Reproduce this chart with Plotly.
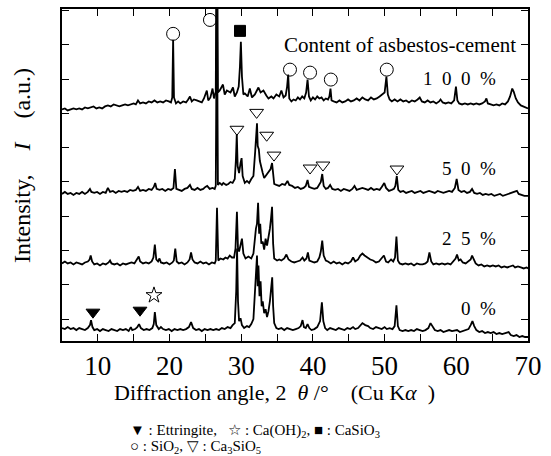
import plotly.graph_objects as go

# ---------------- data (2theta in degrees, intensity in arbitrary units) ----------------
pattern_0 = [(5.0,3),(5.4,2),(5.8,4),(6.2,2),(6.6,3),(7.0,1),(7.4,3),(7.8,2),(8.2,1),(8.6,3),(8.9,6),(9.05,11),(9.25,4),(9.5,1),(9.9,2),(10.3,0),(10.7,2),(11.1,1),(11.5,0),(11.9,2),(12.3,1),(12.7,0),(13.1,2),(13.5,1),(13.9,2),(14.3,0),(14.6,4),(14.8,1),(15.2,2),(15.5,4),(15.75,7),(16.0,3),(16.4,1),(16.8,2),(17.2,1),(17.6,3),(17.8,7),(17.95,19),(18.15,6),(18.5,2),(18.8,4),(19.1,2),(19.5,1),(19.9,2),(20.3,0),(20.7,2),(21.1,1),(21.5,2),(21.9,1),(22.3,2),(22.7,4),(23.0,9),(23.3,3),(23.7,1),(24.1,2),(24.5,0),(24.9,2),(25.3,1),(25.7,2),(26.1,1),(26.5,2),(26.9,1),(27.3,3),(27.7,2),(28.1,4),(28.5,3),(28.8,6),(29.1,8),(29.3,40),(29.42,83),(29.55,30),(29.7,10),(29.9,13),(30.1,6),(30.4,3),(30.8,5),(31.1,4),(31.4,7),(31.7,12),(31.95,40),(32.1,60),(32.2,76),(32.3,45),(32.4,66),(32.55,35),(32.7,50),(32.85,25),(33.0,30),(33.2,18),(33.4,22),(33.6,14),(33.8,20),(34.0,30),(34.2,45),(34.32,54),(34.45,25),(34.6,8),(34.9,3),(35.2,2),(35.6,3),(36.0,1),(36.4,3),(36.8,2),(37.2,1),(37.6,2),(38.0,3),(38.3,5),(38.55,11),(38.75,4),(39.0,3),(39.25,7),(39.5,3),(39.8,1),(40.2,2),(40.6,4),(41.0,10),(41.25,29),(41.45,10),(41.7,3),(42.0,1),(42.4,3),(42.8,2),(43.2,1),(43.6,3),(44.0,2),(44.4,1),(44.8,3),(45.2,2),(45.6,4),(45.9,2),(46.3,3),(46.6,6),(46.9,8),(47.3,6),(47.7,5),(48.0,3),(48.4,2),(48.8,4),(49.2,3),(49.6,2),(50.0,4),(50.3,2),(50.7,3),(51.1,2),(51.4,5),(51.65,26),(51.85,5),(52.1,1),(52.5,0),(52.9,1),(53.3,0),(53.7,1),(54.1,0),(54.5,2),(54.9,1),(55.3,0),(55.7,1),(56.1,3),(56.4,8),(56.7,4),(57.0,1),(57.4,0),(57.8,1),(58.2,-1),(58.6,0),(59.0,1),(59.4,0),(59.8,1),(60.1,1),(60.5,-1),(60.9,0),(61.3,1),(61.7,2),(62.0,6),(62.25,10),(62.5,5),(62.8,1),(63.2,-1),(63.6,0),(64.0,-2),(64.4,-1),(64.8,-2),(65.2,-1),(65.6,-3),(66.0,-2),(66.4,-3),(66.8,-2),(67.3,-1),(67.6,-4),(68.0,-5),(68.4,-4),(68.8,-6),(69.2,-5),(69.6,-6),(70.0,-6)]

pattern_25 = [(5.0,0),(5.4,2),(5.8,0),(6.2,1),(6.6,-1),(7.0,1),(7.4,0),(7.8,-1),(8.2,1),(8.6,2),(8.85,4),(9.0,8),(9.2,2),(9.5,-1),(9.9,0),(10.3,-2),(10.7,0),(11.1,-1),(11.5,1),(11.7,3),(11.9,0),(12.3,-1),(12.7,0),(13.1,-2),(13.5,0),(13.9,-1),(14.3,0),(14.7,1),(15.1,0),(15.4,3),(15.7,7),(15.9,2),(16.3,0),(16.7,1),(17.1,0),(17.5,2),(17.75,6),(17.95,19),(18.15,4),(18.4,2),(18.6,5),(18.8,1),(19.2,0),(19.6,1),(20.0,-1),(20.4,1),(20.6,3),(20.8,15),(21.0,2),(21.3,0),(21.7,1),(22.1,-1),(22.5,1),(22.8,4),(23.0,11),(23.2,4),(23.5,1),(23.9,0),(24.3,2),(24.7,0),(25.1,1),(25.5,-1),(25.9,1),(26.3,0),(26.45,3),(26.62,56),(26.8,3),(27.1,5),(27.5,4),(27.8,6),(28.1,5),(28.4,8),(28.7,6),(29.0,6),(29.2,15),(29.4,52),(29.55,15),(29.7,12),(29.95,22),(30.1,25),(30.3,10),(30.6,5),(31.0,7),(31.4,5),(31.7,10),(31.9,30),(32.05,35),(32.2,40),(32.35,61),(32.5,30),(32.65,40),(32.8,20),(33.0,22),(33.2,14),(33.4,25),(33.6,18),(33.8,25),(34.0,35),(34.15,45),(34.3,57),(34.45,20),(34.6,5),(35.0,3),(35.3,4),(35.6,3),(36.0,5),(36.3,9),(36.6,4),(37.0,2),(37.4,1),(37.8,2),(38.2,3),(38.55,6),(38.8,3),(39.1,5),(39.3,11),(39.5,3),(39.8,2),(40.2,1),(40.6,2),(40.9,6),(41.1,12),(41.3,23),(41.5,8),(41.8,3),(42.1,2),(42.5,0),(42.9,2),(43.3,0),(43.7,1),(44.1,-1),(44.5,1),(44.9,0),(45.3,2),(45.6,6),(45.9,2),(46.3,4),(46.6,8),(46.9,10),(47.2,8),(47.6,6),(48.0,4),(48.4,3),(48.8,1),(49.2,2),(49.6,5),(49.9,8),(50.2,2),(50.5,1),(50.9,4),(51.2,2),(51.45,6),(51.65,27),(51.85,3),(52.1,0),(52.5,-1),(52.9,0),(53.3,-1),(53.7,0),(54.1,-2),(54.5,0),(54.9,-1),(55.3,-1),(55.7,0),(56.0,2),(56.25,11),(56.5,2),(56.8,-1),(57.2,0),(57.6,-1),(58.0,0),(58.4,-1),(58.8,0),(59.2,-1),(59.6,2),(59.9,5),(60.1,9),(60.35,3),(60.6,4),(60.9,1),(61.3,0),(61.7,2),(62.0,4),(62.2,8),(62.4,4),(62.7,0),(63.1,-2),(63.5,-1),(63.9,-3),(64.3,-2),(64.7,-3),(65.1,-2),(65.5,-3),(65.9,-2),(66.3,-4),(66.7,-3),(67.1,-4),(67.5,-3),(67.9,-2),(68.2,-4),(68.6,-3),(69.0,-4),(69.4,-5),(69.8,-4),(70.0,-5)]

pattern_50 = [(5.0,-3),(5.4,-1),(5.8,-3),(6.2,-2),(6.6,-4),(7.0,-2),(7.4,-3),(7.8,-1),(8.2,-3),(8.6,-1),(8.9,2),(9.1,-1),(9.5,-2),(9.9,-1),(10.3,-3),(10.7,-1),(11.1,-2),(11.4,3),(11.7,-1),(12.1,0),(12.5,-2),(12.9,0),(13.3,-1),(13.7,0),(14.1,-1),(14.5,1),(14.9,0),(15.3,1),(15.6,4),(15.9,0),(16.3,1),(16.7,0),(17.1,2),(17.5,1),(17.8,4),(18.0,8),(18.2,2),(18.6,1),(19.0,2),(19.4,0),(19.8,2),(20.2,1),(20.55,3),(20.75,22),(20.95,2),(21.3,1),(21.7,0),(22.1,2),(22.5,3),(22.85,6),(23.1,2),(23.5,1),(23.9,3),(24.3,1),(24.7,2),(25.0,4),(25.25,5),(25.6,2),(26.0,3),(26.3,2),(26.45,5),(26.6,200),(26.75,6),(27.0,8),(27.3,6),(27.5,8),(27.9,6),(28.2,7),(28.5,9),(28.8,8),(29.1,12),(29.25,30),(29.38,57),(29.5,25),(29.7,18),(29.9,28),(30.05,33),(30.2,15),(30.5,8),(30.8,10),(31.1,8),(31.4,12),(31.7,15),(31.95,40),(32.1,55),(32.2,68),(32.3,45),(32.45,42),(32.6,30),(32.8,22),(33.0,18),(33.2,13),(33.5,16),(33.8,18),(34.1,22),(34.3,28),(34.45,12),(34.6,7),(34.9,6),(35.3,5),(35.7,7),(36.1,6),(36.45,10),(36.7,6),(37.1,5),(37.5,3),(37.9,4),(38.3,2),(38.7,3),(39.0,5),(39.25,11),(39.45,4),(39.8,3),(40.2,2),(40.6,3),(40.9,6),(41.1,9),(41.3,17),(41.5,5),(41.8,2),(42.1,3),(42.4,6),(42.7,2),(43.1,1),(43.5,2),(43.9,0),(44.3,2),(44.7,1),(45.1,0),(45.5,2),(45.8,5),(46.1,1),(46.5,2),(46.9,3),(47.3,2),(47.7,1),(48.1,3),(48.5,1),(48.9,2),(49.3,1),(49.6,4),(49.95,8),(50.2,3),(50.6,0),(51.0,1),(51.3,2),(51.5,5),(51.7,15),(51.9,1),(52.2,-1),(52.6,0),(53.0,-2),(53.4,-1),(53.8,0),(54.2,-2),(54.6,-1),(55.0,0),(55.4,-2),(55.8,-1),(56.2,0),(56.6,-1),(57.0,-2),(57.4,0),(57.8,-1),(58.2,-2),(58.6,-1),(59.0,0),(59.4,-1),(59.8,3),(60.05,12),(60.3,1),(60.7,-1),(61.1,0),(61.5,-2),(61.9,-1),(62.2,2),(62.5,-2),(62.9,-3),(63.3,-2),(63.7,-4),(64.1,-3),(64.5,-4),(64.9,-3),(65.3,-5),(65.7,-4),(66.1,-3),(66.5,-5),(66.9,-4),(67.3,-3),(67.7,-2),(68.1,-1),(68.45,0),(68.7,-3),(69.1,-4),(69.5,-5),(70.0,-5)]

pattern_100 = [(5.0,-3),(5.4,-2),(5.8,-4),(6.2,-3),(6.6,-2),(7.0,-3),(7.4,-2),(7.8,-3),(8.2,-1),(8.6,-2),(9.0,-1),(9.4,0),(9.8,-2),(10.2,-1),(10.6,-2),(11.0,0),(11.4,1),(11.8,0),(12.2,2),(12.6,1),(13.0,0),(13.4,1),(13.8,2),(14.2,1),(14.6,2),(15.0,3),(15.3,2),(15.6,6),(15.9,3),(16.3,4),(16.7,3),(17.1,5),(17.5,4),(17.9,6),(18.3,4),(18.7,5),(19.1,4),(19.5,6),(19.9,5),(20.2,4),(20.38,9),(20.5,67),(20.62,9),(20.9,3),(21.2,5),(21.5,3),(21.9,5),(22.3,4),(22.6,7),(22.85,10),(23.1,5),(23.4,7),(23.8,6),(24.1,5),(24.5,4),(24.8,8),(25.2,16),(25.4,6),(25.7,9),(26.0,18),(26.2,8),(26.45,15),(26.6,250),(26.75,14),(27.0,16),(27.45,22),(27.7,12),(28.0,16),(28.5,14),(28.85,19),(29.1,10),(29.4,14),(29.65,20),(29.82,40),(29.95,65),(30.1,30),(30.3,12),(30.5,13),(30.9,10),(31.2,18),(31.5,9),(31.9,12),(32.4,19),(32.7,14),(33.1,16),(33.5,11),(33.8,8),(34.2,10),(34.5,8),(34.9,12),(35.3,10),(35.6,16),(35.9,9),(36.2,11),(36.4,20),(36.55,32),(36.7,8),(37.0,5),(37.3,7),(37.6,6),(37.9,9),(38.2,7),(38.5,10),(38.8,8),(39.05,14),(39.25,27),(39.45,10),(39.7,6),(40.0,9),(40.3,7),(40.6,10),(40.9,8),(41.2,9),(41.5,6),(41.8,8),(42.1,7),(42.3,10),(42.45,18),(42.6,6),(42.9,5),(43.3,4),(43.7,6),(44.1,4),(44.5,5),(44.9,7),(45.3,5),(45.7,6),(46.1,8),(46.5,6),(46.9,9),(47.3,7),(47.7,6),(48.1,9),(48.5,7),(48.9,8),(49.3,10),(49.7,12),(50.0,14),(50.25,30),(50.45,12),(50.7,7),(51.0,5),(51.4,7),(51.8,5),(52.2,7),(52.6,5),(53.0,6),(53.4,4),(53.8,6),(54.2,5),(54.6,7),(54.9,9),(55.2,5),(55.6,4),(56.0,6),(56.4,4),(56.8,5),(57.2,3),(57.6,5),(57.8,7),(58.1,4),(58.5,3),(58.9,4),(59.3,3),(59.7,6),(59.95,20),(60.15,6),(60.4,3),(60.8,2),(61.2,3),(61.6,2),(62.0,3),(62.4,2),(62.8,3),(63.2,2),(63.6,3),(64.0,5),(64.2,8),(64.4,3),(64.8,2),(65.2,1),(65.6,2),(66.0,1),(66.4,3),(66.8,2),(67.2,5),(67.5,10),(67.8,18),(68.0,15),(68.3,8),(68.6,4),(69.0,1),(69.4,0),(69.7,-1),(70.0,-2)]

series_labels = ["0\u2002%", "2\u20025\u2002%", "5\u20020\u2002%", "1\u20020\u20020\u2002%"]
series_patterns = [pattern_0, pattern_25, pattern_50, pattern_100]
series_offsets = [10, 78, 151, 236]          # vertical stacking offsets
label_heights = [33, 103, 174, 264]          # label y in stacked units

# phase markers: (2theta, stacked intensity)
ettringite = [(9.32, 29), (15.88, 31)]
caoh2 = [(17.83, 46)]
casio3 = [(29.83, 312)]
sio2 = [(20.5, 309), (25.64, 323), (36.8, 273), (39.6, 270), (42.5, 263), (50.3, 273)]
ca3sio5 = [(29.4, 213), (32.15, 230), (33.55, 207), (34.57, 187), (39.6, 174), (41.4, 177), (51.72, 173)]

x_tick_vals = [10, 15, 20, 25, 30, 35, 40, 45, 50, 55, 60, 65, 70]
x_tick_text = ["10", "", "20", "", "30", "", "40", "", "50", "", "60", "", "70"]
y_tick_vals = [22, 56.5, 91, 125.5, 160, 194.5, 229, 263.5, 298, 332.5]

legend_line_1 = "▼ : Ettringite,\u2002 ☆ : Ca(OH)<sub>2</sub>, ■ : CaSiO<sub>3</sub>"
legend_line_2 = "○ : SiO<sub>2</sub>, ▽ : Ca<sub>3</sub>SiO<sub>5</sub>"

SERIF = "Liberation Serif, Times New Roman, serif"

fig = go.Figure()
for pat, off in zip(series_patterns, series_offsets):
    xs = [p[0] for p in pat]
    ys = [p[1] + off for p in pat]
    fig.add_trace(go.Scatter(x=xs, y=ys, mode="lines",
                             line=dict(color="black", width=1.8), showlegend=False))

def add_markers(pts, symbol, size):
    fig.add_trace(go.Scatter(x=[p[0] for p in pts], y=[p[1] for p in pts], mode="markers",
                             marker=dict(symbol=symbol, size=size, color="black",
                                         line=dict(color="black", width=1)),
                             cliponaxis=False, showlegend=False))

add_markers(ettringite, "triangle-down", 12)
add_markers(caoh2, "star-open", 12)
add_markers(casio3, "square", 11)
add_markers(sio2, "circle-open", 13)
add_markers(ca3sio5, "triangle-down-open", 12)

annotations = []
for lab, yv in zip(series_labels, label_heights):
    annotations.append(dict(x=65.8, y=yv, xref="x", yref="y", text=lab, showarrow=False,
                            xanchor="right", yanchor="middle",
                            font=dict(family=SERIF, size=19, color="black")))
annotations.append(dict(x=68.6, y=298, xref="x", yref="y", text="Content of asbestos-cement",
                        showarrow=False, xanchor="right", yanchor="middle",
                        font=dict(family=SERIF, size=21, color="black")))
annotations.append(dict(x=0.455, y=-0.1557, xref="paper", yref="paper",
                        text="Diffraction angle, 2\u2002<i>θ</i> /°\u2003(Cu K<i>α</i>\u2002)",
                        showarrow=False, xanchor="center", yanchor="middle",
                        font=dict(family=SERIF, size=22, color="black")))
annotations.append(dict(x=-0.0858, y=0.527, xref="paper", yref="paper",
                        text="Intensity,\u2003<i>I</i>\u2003(a.u.)", textangle=-90,
                        showarrow=False, xanchor="center", yanchor="middle",
                        font=dict(family=SERIF, size=24, color="black")))
annotations.append(dict(x=0.1416, y=-0.2700, xref="paper", yref="paper",
                        text=legend_line_1,
                        showarrow=False, xanchor="left", yanchor="middle",
                        font=dict(family=SERIF, size=15, color="black")))
annotations.append(dict(x=0.1416, y=-0.3180, xref="paper", yref="paper",
                        text=legend_line_2,
                        showarrow=False, xanchor="left", yanchor="middle",
                        font=dict(family=SERIF, size=15, color="black")))

fig.update_layout(
    width=551, height=456,
    margin=dict(l=62, r=23, t=7, b=115),
    paper_bgcolor="white", plot_bgcolor="white",
    annotations=annotations,
    xaxis=dict(range=[5, 70], tickvals=x_tick_vals, ticktext=x_tick_text,
               ticks="inside", ticklen=7, tickwidth=1.3, tickcolor="black",
               showline=True, linecolor="black", linewidth=1.6, mirror="ticks",
               showgrid=False, zeroline=False,
               tickfont=dict(family=SERIF, size=27, color="black")),
    yaxis=dict(range=[0, 334], tickvals=y_tick_vals, showticklabels=False,
               ticks="inside", ticklen=7, tickwidth=1.3, tickcolor="black",
               showline=True, linecolor="black", linewidth=1.6, mirror="ticks",
               showgrid=False, zeroline=False),
)

fig.write_html("out.html")
